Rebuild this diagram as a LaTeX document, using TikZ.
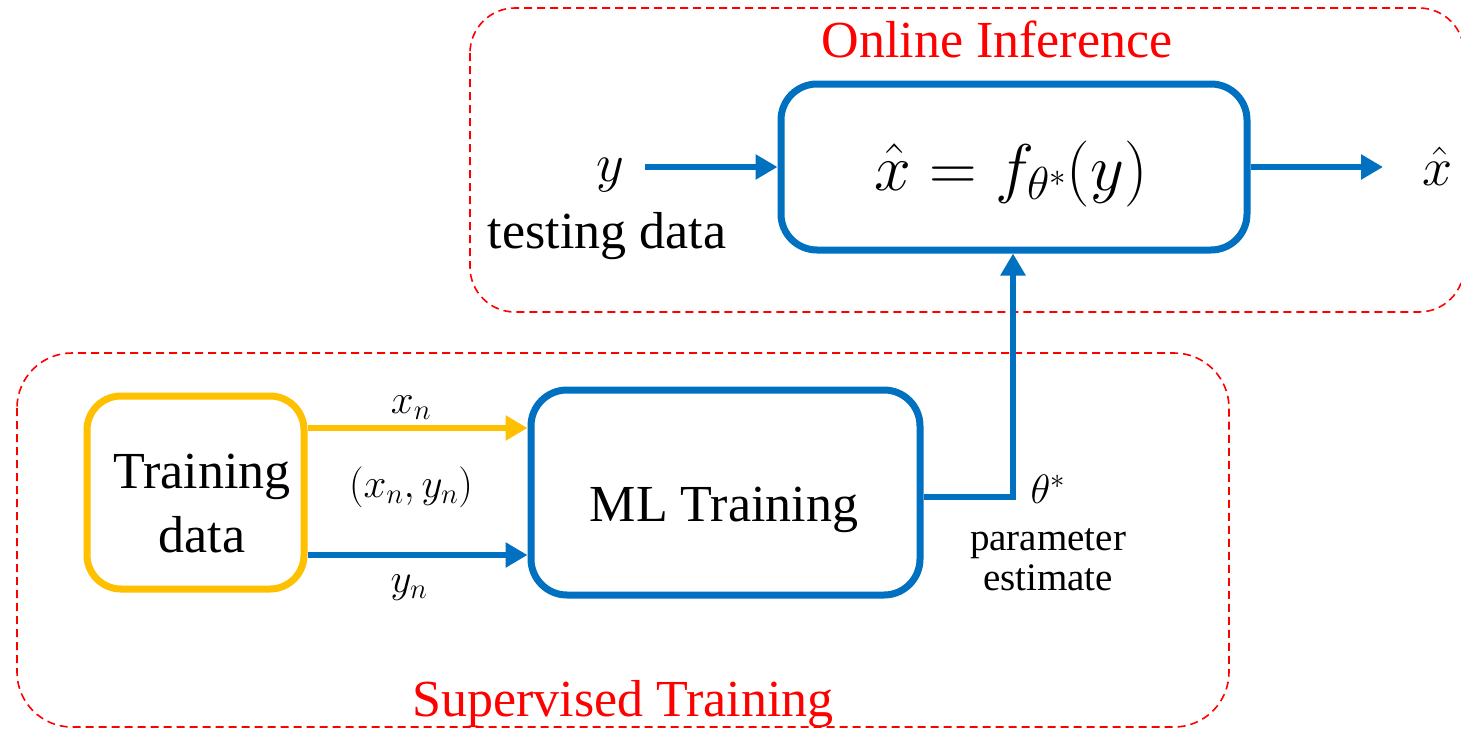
\RequirePackage{fix-cm}
\documentclass[tikz,border=0pt]{standalone}
\usepackage{fontspec}
\setmainfont{Liberation Serif}
\usetikzlibrary{arrows.meta}
\definecolor{myblue}{HTML}{0070C0}
\definecolor{myyellow}{HTML}{FFC000}
\definecolor{myred}{HTML}{FF0000}
\tikzset{
  boxstyle/.style={line width=7pt, rounded corners=36pt, inner sep=0pt, outer sep=0pt},
  region/.style={draw=myred, line width=1.6pt, dash pattern=on 8pt off 5pt},
  flow/.style={line width=6pt, -{Triangle[length=22pt,width=24pt]}},
  bigtxt/.style={font=\fontsize{52}{56}\selectfont, inner sep=0pt, outer sep=0pt},
  midtxt/.style={font=\fontsize{39}{40}\selectfont, inner sep=0pt, outer sep=0pt, align=center},
  mathlbl/.style={font=\fontsize{41}{44}\selectfont, inner sep=0pt, outer sep=0pt},
  redtxt/.style={font=\fontsize{52}{56}\selectfont, text=myred, inner sep=0pt, outer sep=0pt}
}
\begin{document}
\begin{tikzpicture}[x=1pt,y=-1pt]
\useasboundingbox[fill=white] (0,0) rectangle (1461,728);
% regions
\draw[region, rounded corners=45pt] (470,8) rectangle (1464,312);
\draw[region, rounded corners=55pt] (17,353) rectangle (1229,727);
\node[redtxt, anchor=base] (ttlon) at (997,57) {Online Inference};
\node[redtxt, anchor=base] (ttlsup) at (623,716) {Supervised Training};
% boxes
\node[boxstyle, draw=myblue, minimum width=466pt, minimum height=166pt] (inf) at (1014,167) {};
\node[font=\fontsize{66}{70}\selectfont, inner sep=0pt, anchor=base] (eq) at (1011,190) {$\hat{x} = f_{\theta^*}(y)$};
\node[boxstyle, draw=myblue, minimum width=389pt, minimum height=205pt] (ml) at (725.5,492.5) {};
\node[bigtxt, anchor=base] (mltxt) at (724,521) {ML Training};
\node[boxstyle, draw=myyellow, rounded corners=34pt, minimum width=217pt, minimum height=193pt] (td) at (195.5,492.5) {};
\node[bigtxt, anchor=base] (tdtxt1) at (202,488) {Training};
\node[bigtxt, anchor=base] (tdtxt2) at (202,552) {data};
% inference inputs/outputs
\node[font=\fontsize{54}{56}\selectfont, inner sep=0pt, anchor=base] (ylbl) at (610,181) {$y$};
\node[bigtxt, anchor=base] (testtxt) at (607,248) {testing data};
\node[font=\fontsize{54}{56}\selectfont, inner sep=0pt, anchor=base] (xhat) at (1438,185) {$\hat{x}$};
\coordinate (yin) at (645,167);
\coordinate (xout) at (1383,167);
\draw[flow, draw=myblue, shorten >=3.5pt] (yin) -- (inf.west |- yin);
\draw[flow, draw=myblue, shorten <=3.5pt] (inf.east |- xout) -- (xout);
% training arrows
\coordinate (xrow) at (0,428);
\coordinate (yrow) at (0,555);
\draw[flow, draw=myyellow, shorten <=3.5pt, shorten >=3.5pt] (td.east |- xrow) -- (ml.west |- xrow);
\draw[flow, draw=myblue, shorten <=3.5pt, shorten >=3.5pt] (td.east |- yrow) -- (ml.west |- yrow);
\node[mathlbl, anchor=base] (xn) at (411,413) {$x_n$};
\node[mathlbl, anchor=base] (xnyn) at (411,497) {$(x_n, y_n)$};
\node[mathlbl, anchor=base] (yn) at (409,592) {$y_n$};
% parameter path
\coordinate (th) at (1013,497);
\draw[flow, draw=myblue, shorten <=3.5pt, shorten >=3.5pt] (ml.east |- th) -- (th) -- (inf.south -| th);
\node[mathlbl, anchor=base] (thlbl) at (1048,503) {$\theta^*$};
\node[midtxt, anchor=base] (par1) at (1048,550) {parameter};
\node[midtxt, anchor=base] (par2) at (1048,590) {estimate};
\end{tikzpicture}
\end{document}
